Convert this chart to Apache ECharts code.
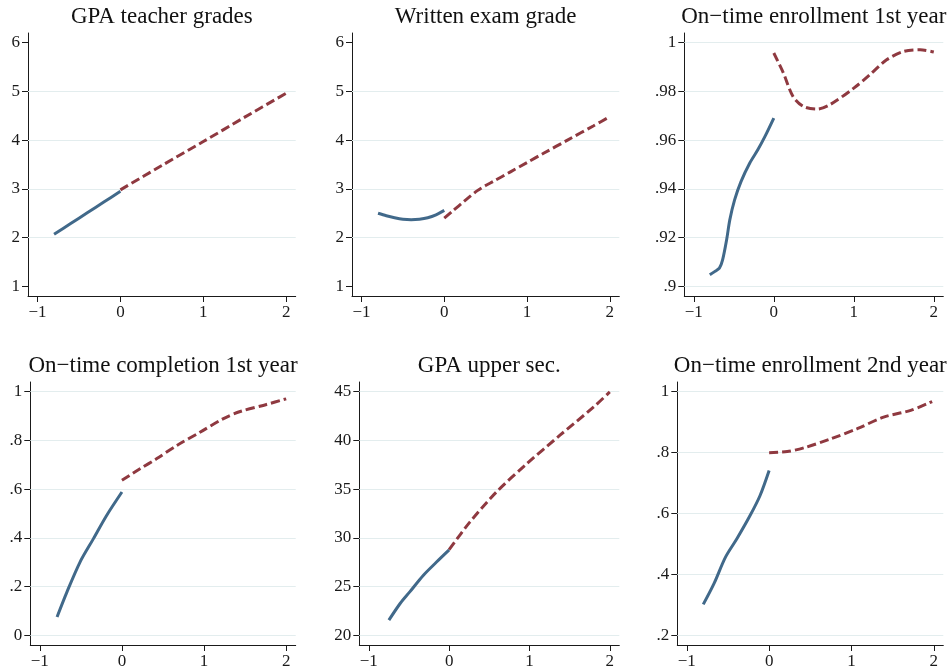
<!DOCTYPE html>
<html>
<head>
<meta charset="utf-8">
<script src="https://cdn.jsdelivr.net/npm/echarts@6/dist/echarts.min.js"></script>
<style>
html,body{margin:0;padding:0;background:#fff;}
#chart{width:951px;height:671px;}
</style>
</head>
<body>
<div id="chart"></div>
<script>
// ---------- data ----------
const titles = ['GPA teacher grades', 'Written exam grade', 'On\u2212time enrollment 1st year',
                'On\u2212time completion 1st year', 'GPA upper sec.', 'On\u2212time enrollment 2nd year'];

const xTickValues = [-1, 0, 1, 2];
const xTickLabels = ['\u22121', '0', '1', '2'];

const yTickValues1 = [1, 2, 3, 4, 5, 6];
const yTickLabels1 = ['1', '2', '3', '4', '5', '6'];
const yTickValues2 = [1, 2, 3, 4, 5, 6];
const yTickLabels2 = ['1', '2', '3', '4', '5', '6'];
const yTickValues3 = [0.9, 0.92, 0.94, 0.96, 0.98, 1];
const yTickLabels3 = ['.9', '.92', '.94', '.96', '.98', '1'];
const yTickValues4 = [0, 0.2, 0.4, 0.6, 0.8, 1];
const yTickLabels4 = ['0', '.2', '.4', '.6', '.8', '1'];
const yTickValues5 = [20, 25, 30, 35, 40, 45];
const yTickLabels5 = ['20', '25', '30', '35', '40', '45'];
const yTickValues6 = [0.2, 0.4, 0.6, 0.8, 1];
const yTickLabels6 = ['.2', '.4', '.6', '.8', '1'];

const gridValues1 = [2, 3, 4, 5];
const gridValues2 = [2, 3, 4, 5];
const gridValues3 = [0.9, 0.92, 0.94, 0.96, 0.98, 1];
const gridValues4 = [0, 0.2, 0.4, 0.6, 0.8, 1];
const gridValues5 = [20, 25, 30, 35, 40, 45];
const gridValues6 = [0.2, 0.4, 0.6, 0.8, 1];

// panel 1
const blueX1 = [-0.8, -0.6, -0.4, -0.2, 0];
const blueY1 = [2.07, 2.29, 2.51, 2.73, 2.95];
const redX1 = [0, 0.5, 1, 1.5, 2];
const redY1 = [2.98, 3.48, 3.97, 4.47, 4.96];
// panel 2
const blueX2 = [-0.8, -0.7, -0.6, -0.5, -0.4, -0.3, -0.2, -0.1, 0];
const blueY2 = [2.50, 2.45, 2.41, 2.38, 2.37, 2.38, 2.41, 2.47, 2.56];
const redX2 = [0, 0.1, 0.2, 0.3, 0.4, 0.5, 0.6, 0.8, 1.0, 1.2, 1.5, 1.8, 2.0];
const redY2 = [2.40, 2.545, 2.69, 2.83, 2.965, 3.07, 3.16, 3.35, 3.54, 3.73, 4.01, 4.29, 4.48];
// panel 3
const blueX3 = [-0.8, -0.74, -0.68, -0.64, -0.59, -0.55, -0.49, -0.41, -0.30, -0.20, -0.11, 0];
const blueY3 = [0.9048, 0.9061, 0.9075, 0.9109, 0.9191, 0.9273, 0.9355, 0.9430, 0.9506, 0.9560, 0.9615, 0.9690];
const redX3 = [0, 0.12, 0.24, 0.37, 0.54, 0.70, 1.0, 1.20, 1.41, 1.62, 1.83, 2.0];
const redY3 = [0.9957, 0.9875, 0.9779, 0.9738, 0.9727, 0.9745, 0.9813, 0.9868, 0.9929, 0.9963, 0.9970, 0.9961];
// panel 4
const blueX4 = [-0.79, -0.67, -0.51, -0.35, -0.19, 0];
const blueY4 = [0.076, 0.178, 0.301, 0.395, 0.49, 0.588];
const redX4 = [0, 0.22, 0.42, 0.67, 0.95, 1.23, 1.44, 1.76, 2.0];
const redY4 = [0.636, 0.683, 0.724, 0.779, 0.833, 0.888, 0.918, 0.947, 0.970];
// panel 5
const blueX5 = [-0.75, -0.61, -0.49, -0.32, -0.16, 0];
const blueY5 = [21.57, 23.28, 24.47, 26.18, 27.5, 28.77];
const redX5 = [0, 0.26, 0.59, 0.97, 1.38, 1.80, 2.0];
const redY5 = [28.8, 31.64, 34.71, 37.62, 40.52, 43.42, 44.96];
// panel 6
const blueX6 = [-0.8, -0.67, -0.53, -0.39, -0.23, -0.11, 0];
const blueY6 = [0.302, 0.370, 0.457, 0.518, 0.594, 0.659, 0.741];
const redX6 = [0, 0.22, 0.42, 0.75, 1.07, 1.39, 1.72, 1.98];
const redY6 = [0.799, 0.803, 0.815, 0.845, 0.878, 0.916, 0.938, 0.967];

// ---------- layout / style ----------
const panelBoxes = [
  {l: 28, r: 295.7, t: 33, b: 296},
  {l: 352, r: 619.3, t: 33, b: 296},
  {l: 684.3, r: 943.3, t: 33, b: 296},
  {l: 30.3, r: 295.7, t: 382, b: 645},
  {l: 359.3, r: 619.3, t: 382, b: 645},
  {l: 677.3, r: 943.3, t: 382, b: 645}
];
const PAD = 9.5;
const FONT = '"Liberation Serif", "Times New Roman", serif';
const BLUE = '#41698a';
const RED = '#8f3940';
const AXIS = '#1a1a1a';
const GRIDC = '#e3edee';

const yTickValues = [yTickValues1, yTickValues2, yTickValues3, yTickValues4, yTickValues5, yTickValues6];
const yTickLabels = [yTickLabels1, yTickLabels2, yTickLabels3, yTickLabels4, yTickLabels5, yTickLabels6];
const gridValues = [gridValues1, gridValues2, gridValues3, gridValues4, gridValues5, gridValues6];
const blueX = [blueX1, blueX2, blueX3, blueX4, blueX5, blueX6];
const blueY = [blueY1, blueY2, blueY3, blueY4, blueY5, blueY6];
const redX = [redX1, redX2, redX3, redX4, redX5, redX6];
const redY = [redY1, redY2, redY3, redY4, redY5, redY6];

function zip(a, b) { return a.map((v, i) => [v, b[i]]); }
function lookup(vals, labels, v) {
  for (let i = 0; i < vals.length; i++) if (Math.abs(vals[i] - v) < 1e-9) return labels[i];
  return '';
}
function padRange(lo, hi, px) {
  const u = (hi - lo) / (px - 2 * PAD);
  return [lo - PAD * u, hi + PAD * u];
}

const grids = [], xAxes = [], yAxes = [], series = [], graphics = [];
panelBoxes.forEach((p, i) => {
  const w = p.r - p.l, h = p.b - p.t;
  grids.push({left: p.l, top: p.t, width: w, height: h, containLabel: false});
  const xr = padRange(xTickValues[0], xTickValues[xTickValues.length - 1], w);
  const yv = yTickValues[i];
  const yr = padRange(yv[0], yv[yv.length - 1], h);
  xAxes.push({
    type: 'value', gridIndex: i, min: xr[0], max: xr[1],
    axisLine: {show: true, onZero: false, lineStyle: {color: AXIS, width: 1}},
    axisTick: {show: true, length: 6, customValues: xTickValues, lineStyle: {color: AXIS, width: 1}},
    axisLabel: {show: true, customValues: xTickValues, margin: 8, fontFamily: FONT, fontSize: 17, color: '#1a1a1a',
      formatter: v => lookup(xTickValues, xTickLabels, v)},
    splitLine: {show: false}
  });
  yAxes.push({
    type: 'value', gridIndex: i, min: yr[0], max: yr[1],
    axisLine: {show: true, onZero: false, lineStyle: {color: AXIS, width: 1}},
    axisTick: {show: true, length: 6, customValues: yv, lineStyle: {color: AXIS, width: 1}},
    axisLabel: {show: true, customValues: yv, margin: 8, fontFamily: FONT, fontSize: 17, color: '#1a1a1a',
      formatter: v => lookup(yv, yTickLabels[i], v)},
    splitLine: {show: false}
  });
  series.push({
    type: 'line', xAxisIndex: i, yAxisIndex: i, data: [], z: 1, silent: true,
    markLine: {
      z: 1, zlevel: 0,
      silent: true, symbol: ['none', 'none'], animation: false,
      label: {show: false},
      lineStyle: {color: GRIDC, width: 1.2, type: 'solid'},
      emphasis: {disabled: true},
      data: gridValues[i].map(v => ({yAxis: v}))
    }
  });
  series.push({
    type: 'line', xAxisIndex: i, yAxisIndex: i, data: zip(blueX[i], blueY[i]), z: 10,
    showSymbol: false, smooth: 0.3,
    lineStyle: {color: BLUE, width: 3, cap: 'butt'}
  });
  series.push({
    type: 'line', xAxisIndex: i, yAxisIndex: i, data: zip(redX[i], redY[i]), z: 10,
    showSymbol: false, smooth: 0.3,
    lineStyle: {color: RED, width: 3, type: [9, 4], cap: 'butt'}
  });
  graphics.push({
    type: 'text', x: p.l + w / 2, y: p.t - 16, silent: true,
    style: {text: titles[i], font: '23px ' + FONT, fill: '#111',
      textAlign: 'center', textVerticalAlign: 'middle', align: 'center', verticalAlign: 'middle'}
  });
});

const chart = echarts.init(document.getElementById('chart'), null, {renderer: 'canvas'});
chart.setOption({
  animation: false,
  backgroundColor: '#ffffff',
  grid: grids,
  xAxis: xAxes,
  yAxis: yAxes,
  series: series,
  graphic: graphics
});
</script>
</body>
</html>
